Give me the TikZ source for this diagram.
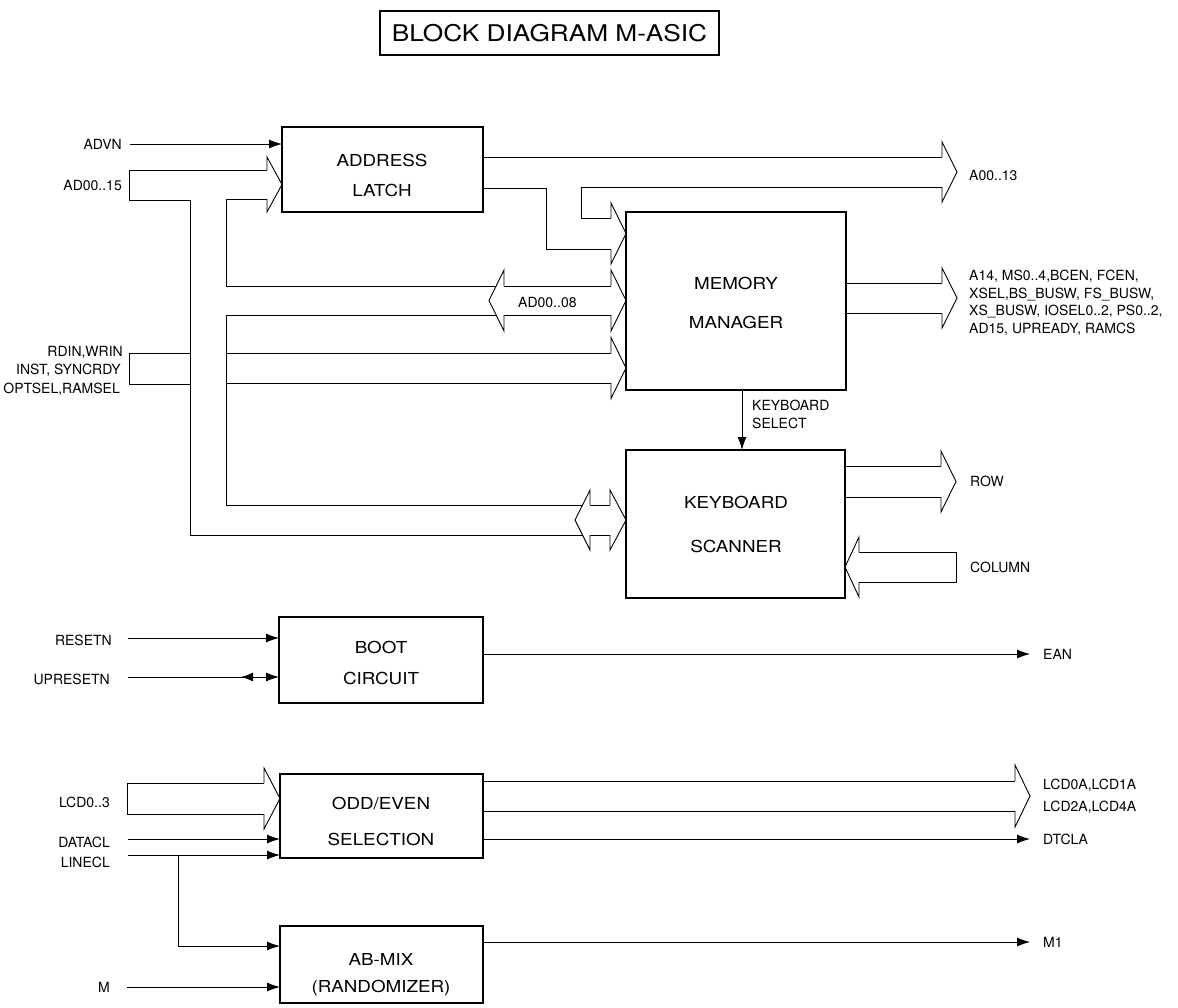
\documentclass[tikz,border=0pt]{standalone}
\usepackage{fontspec}
\setmainfont{TeX Gyre Heros}
\newfontfamily\boxfont[FakeStretch=1.14]{TeX Gyre Heros}
\usetikzlibrary{arrows.meta}
% bus arrow head: flare x, tip x, centre y, half bus width, half head width
\newcommand\bhd[5]{\draw[bus] (#1,#3-#4) -- (#1,#3-#5) -- (#2,#3) -- (#1,#3+#5) -- (#1,#3+#4);}
\newcommand\bhdw[5]{\fill[white] (#1,#3-#5) -- (#2,#3) -- (#1,#3+#5) -- cycle;
  \draw[bus] (#1,#3-#4) -- (#1,#3-#5) -- (#2,#3) -- (#1,#3+#5) -- (#1,#3+#4);}
\begin{document}
\begin{tikzpicture}[x=1pt,y=-1pt,
  blk/.style={draw, line width=2.8pt, inner sep=0pt, outer sep=0pt},
  bus/.style={line width=0.9pt, line join=miter},
  sig/.style={line width=0.9pt, -{Latex[length=13pt,width=9pt]}},
  lbl/.style={font=\fontsize{14}{17}\selectfont, inner sep=0pt},
  btxt/.style={font=\boxfont\fontsize{16.5}{20}\selectfont, inner sep=0pt}]
\useasboundingbox (0,0) rectangle (1178,1007);
\fill[white] (0,0) rectangle (1178,1007);

% title
\node[draw, line width=1.6pt, minimum width=339pt, minimum height=44pt, inner sep=0pt,
      font=\boxfont\fontsize{23}{26}\selectfont] (title) at (549.5,33) {BLOCK DIAGRAM M-ASIC};

% blocks
\node[blk, minimum width=201pt, minimum height=85pt] (al) at (382.5,169.5) {};
\node[blk, minimum width=220pt, minimum height=178pt] (mm) at (736,301) {};
\node[blk, minimum width=219pt, minimum height=148pt] (ks) at (735.5,524) {};
\node[blk, minimum width=204pt, minimum height=86pt] (boot) at (381,660) {};
\node[blk, minimum width=203pt, minimum height=84pt] (odd) at (381.5,816) {};
\node[blk, minimum width=203pt, minimum height=77pt] (ab) at (381.5,964.5) {};

\node[btxt] (al1) at (382,160) {ADDRESS};
\node[btxt] (al2) at (382,190) {LATCH};
\node[btxt] (mm1) at (736,283) {MEMORY};
\node[btxt] (mm2) at (736,322) {MANAGER};
\node[btxt] (ks1) at (736,502) {KEYBOARD};
\node[btxt] (ks2) at (736,546) {SCANNER};
\node[btxt] (bo1) at (381,647) {BOOT};
\node[btxt] (bo2) at (381,678) {CIRCUIT};
\node[btxt] (od1) at (381,803) {ODD/EVEN};
\node[btxt] (od2) at (381,839) {SELECTION};
\node[btxt] (ab1) at (381,959) {AB-MIX};
\node[btxt] (ab2) at (381,988) {(RANDOMIZER)};

% left labels
\node[lbl, anchor=east] (advnL) at (122,144) {ADVN};
\node[lbl, anchor=east] (adL) at (122,185) {AD00..15};
\node[lbl, anchor=east] (rd1) at (123,352) {RDIN,WRIN};
\node[lbl, anchor=east] (rd2) at (121,370) {INST, SYNCRDY};
\node[lbl, anchor=east] (rd3) at (120,389) {OPTSEL,RAMSEL};
\node[lbl, anchor=east] (rsL) at (112,640) {RESETN};
\node[lbl, anchor=east] (upL) at (110,679) {UPRESETN};
\node[lbl, anchor=east] (lcdL) at (110,802) {LCD0..3};
\node[lbl, anchor=east] (dcL) at (110,842) {DATACL};
\node[lbl, anchor=east] (lcL) at (110,862) {LINECL};
\node[lbl, anchor=east] (mL) at (110,987) {M};

% right labels
\node[lbl, anchor=west] (a0L) at (969,175) {A00..13};
\node[lbl, anchor=west, align=left, font=\fontsize{14}{17.5}\selectfont] (msL) at (969,303)
  {A14, MS0..4,BCEN, FCEN,\\XSEL,BS\_BUSW, FS\_BUSW,\\XS\_BUSW, IOSEL0..2, PS0..2,\\AD15, UPREADY, RAMCS};
\node[lbl, anchor=west] (ad8L) at (518,302) {AD00..08};
\node[lbl, anchor=west, align=left, font=\fontsize{14}{18}\selectfont] (kselL) at (752,414) {KEYBOARD\\SELECT};
\node[lbl, anchor=west] (rowL) at (970,481) {ROW};
\node[lbl, anchor=west] (colL) at (970,567) {COLUMN};
\node[lbl, anchor=west] (eanL) at (1043,654) {EAN};
\node[lbl, anchor=west, align=left, font=\fontsize{14}{22}\selectfont] (lcdoL) at (1043,796) {LCD0A,LCD1A\\LCD2A,LCD4A};
\node[lbl, anchor=west] (dtL) at (1043,839) {DTCLA};
\node[lbl, anchor=west] (m1L) at (1043,942) {M1};

% ---- AD00..15 bus system
\draw[bus] (267,170) -- (129,170) -- (129,200) -- (190,200) -- (190,535) -- (610,535);
\draw[bus] (267,199) -- (226,199) -- (226,286) -- (611,286);
\draw[bus] (611,315) -- (226,315) -- (226,505) -- (610,505);
\bhd{267}{282}{184.5}{14.5}{27.5}
\bhd{611}{626}{300.5}{14.5}{30.5}
\bhdw{504}{489}{300.5}{14.5}{30.5}
\bhdw{590}{575}{520}{15}{30}
\bhd{610}{626}{520}{15}{30}

% RDIN bus
\draw[bus] (190,353) -- (129,353) -- (129,384) -- (190,384);
\draw[bus] (226,353) -- (611,353);
\draw[bus] (226,383) -- (611,383);
\bhd{611}{626}{368}{15}{30.5}

% A00..13 bus and branch into memory manager
\draw[bus] (483,157) -- (942,157);
\draw[bus] (942,187) -- (581,187) -- (581,218) -- (611,218);
\draw[bus] (483,188) -- (546,188) -- (546,249) -- (611,249);
\bhd{942}{957}{172}{15}{30}
\bhd{611}{626}{233.5}{15.5}{30.5}

% memory manager outputs
\draw[bus] (846,283) -- (942,283);
\draw[bus] (846,313) -- (942,313);
\bhd{942}{957}{298}{15}{30}

% keyboard select
\coordinate (ksel) at (742,0);
\draw[sig] (mm.south -| ksel) -- (ks.north -| ksel);

% ROW / COLUMN
\draw[bus] (845,466) -- (941,466);
\draw[bus] (845,497) -- (941,497);
\bhd{941}{956}{481.5}{15.5}{30.5}
\draw[bus] (859,552) -- (956,552) -- (956,582) -- (859,582);
\bhd{859}{845}{567}{15}{30}

% ADVN
\coordinate (advnS) at (130,144);
\draw[sig] (advnS) -- (al.west |- advnS);

% boot circuit
\coordinate (rsS) at (128,638);
\draw[sig] (rsS) -- (boot.west |- rsS);
\coordinate (upS) at (128,677);
\draw[sig] (upS) -- (boot.west |- upS);
\draw[line width=0.9pt, -{Latex[length=12pt,width=9pt]}] (255,677) -- (241,677);
\coordinate (eanE) at (1030,654);
\draw[sig] (boot.east |- eanE) -- (eanE);

% odd/even selection
\draw[bus] (264,783) -- (127,783) -- (127,814) -- (264,814);
\bhd{264}{280}{798.5}{15.5}{30.5}
\coordinate (dcS) at (128,839);
\draw[sig] (dcS) -- (odd.west |- dcS);
\coordinate (lcS) at (128,855);
\draw[sig] (lcS) -- (odd.west |- lcS);
\draw[bus] (483,781) -- (1015,781);
\draw[bus] (483,811) -- (1015,811);
\bhd{1015}{1030}{796}{15}{31}
\coordinate (dtE) at (1030,839);
\draw[sig] (odd.east |- dtE) -- (dtE);

% AB-mix
\coordinate (lcJ) at (178,855);
\coordinate (lcB) at (178,946);
\draw[sig] (lcJ) -- (lcB) -- (ab.west |- lcB);
\coordinate (mS) at (127,987);
\draw[sig] (mS) -- (ab.west |- mS);
\coordinate (m1E) at (1030,942);
\draw[sig] (ab.east |- m1E) -- (m1E);
\end{tikzpicture}
\end{document}
